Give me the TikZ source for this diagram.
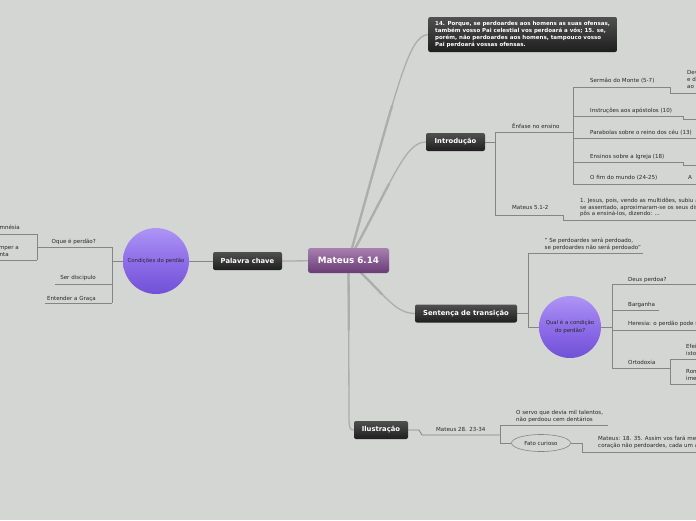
\documentclass[tikz,border=0pt]{standalone}
\usepackage{fontspec}
\setmainfont{DejaVu Sans}
\usetikzlibrary{shapes.geometric,calc}
\pgfdeclarelayer{bgl}
\pgfsetlayers{bgl,main}
\definecolor{bg}{RGB}{212,214,211}
\definecolor{ln}{RGB}{132,134,131}
\definecolor{rootln}{RGB}{172,174,171}
\definecolor{txtc}{RGB}{40,40,40}
\definecolor{dktop}{RGB}{80,80,80}
\definecolor{dkbot}{RGB}{30,30,30}
\definecolor{rttop}{RGB}{168,128,176}
\definecolor{rtbot}{RGB}{106,60,118}
\definecolor{cltop}{RGB}{174,148,246}
\definecolor{clmid}{RGB}{142,110,232}
\definecolor{clbot}{RGB}{112,80,214}
\begin{document}
\begin{tikzpicture}[x=1pt,y=-1pt,
  txt/.style={font=\fontsize{5.55}{6.8}\selectfont, text=txtc, inner sep=0, anchor=base west},
  mtxt/.style={font=\fontsize{5.55}{6.8}\selectfont, text=txtc, inner sep=0, anchor=west, align=left},
  darkbox/.style={rounded corners=2pt, top color=dktop, bottom color=dkbot, draw=none, text=white, font=\bfseries\fontsize{6.8}{8}\selectfont, inner sep=0, minimum height=18pt},
  rootbox/.style={rounded corners=2.5pt, top color=rttop, bottom color=rtbot, text=white, font=\bfseries\fontsize{8.8}{10}\selectfont, inner sep=0, minimum width=81pt, minimum height=25pt},
  bubble/.style={circle, top color=cltop, bottom color=clbot, middle color=clmid, text=txtc, font=\fontsize{5.4}{7.6}\selectfont, align=center, inner sep=0},
  br/.style={draw=ln, line width=0.8pt},
  rc/.style={draw=rootln, line width=1.3pt, line cap=round},
  rcw/.style={draw=rootln, line width=2.3pt, line cap=round},
]
\useasboundingbox (0,0) rectangle (696,520);

% main nodes
\node[rootbox] (root) at (348.5,260.5) {Mateus 6.14};
\node[darkbox, minimum width=69pt] (kw) at (247.5,261) {Palavra chave};
\node[darkbox, minimum width=59pt] (intro) at (455.5,142) {Introdução};
\node[darkbox, minimum width=102pt] (sent) at (466,313.5) {Sentença de transição};
\node[darkbox, minimum width=54pt] (ilus) at (381,430) {Ilustração};
\node[darkbox, anchor=west, minimum height=35pt, inner xsep=7pt, align=left, font=\bfseries\fontsize{5.5}{6.7}\selectfont] (quote) at (428,34.5) {14. Porque, se perdoardes aos homens as suas ofensas,\\também vosso Pai celestial vos perdoará a vós; 15. se,\\porém, não perdoardes aos homens, tampouco vosso\\Pai perdoará vossas ofensas.};

\node[bubble, minimum size=66pt] (cond) at (156,261) {Condições do perdão};
\node[bubble, minimum size=62pt] (qual) at (570,327) {Qual é a condição\\do perdão?};
\node[ellipse, draw=ln, line width=0.6pt, fill=bg, minimum width=59pt, minimum height=17pt, inner sep=0, text=txtc, font=\fontsize{5.5}{6.8}\selectfont] (fato) at (541,443) {Fato curioso};

% left texts
\node[txt, anchor=base east] (oque) at (96,243.5) {Oque é perdão?};
\node[txt, anchor=base east] (ser) at (96,279.5) {Ser discipulo};
\node[txt, anchor=base east] (ent) at (96,300.5) {Entender a Graça};
\node[txt, anchor=base east] (amn) at (20,229.3) {amnésia};
\node[txt, anchor=base east] (romp) at (19,249.7) {mper a};
\node[txt, anchor=base west] (conta) at (-0.5,256) {nta};

% introducao texts
\node[txt] (enf) at (512,128) {Ênfase no ensino};
\node[txt] (serm) at (590,82.7) {Sermão do Monte (5-7)};
\node[txt] (instr) at (590,112) {Instruções aos apóstolos (10)};
\node[txt] (parab) at (590,134.3) {Parabolas sobre o reino dos céu (13)};
\node[txt] (ens) at (590,158) {Ensinos sobre a Igreja (18)};
\node[txt] (fim) at (590,179.7) {O fim do mundo (24-25)};
\node[txt] (afr) at (688,179.7) {A};
\node[mtxt] (dev) at (687,79.5) {Dev\\e d\\ao};
\node[txt] (m512) at (512,209.7) {Mateus 5.1-2};
\node[mtxt] (jesus) at (580,207.5) {1. Jesus, pois, vendo as multidões, subiu a\\se assentado, aproximaram-se os seus dis\\pôs a ensiná-los, dizendo: ...};

% sentenca texts
\node[mtxt] (q1) at (544.5,244.5) {" Se perdoardes será perdoado,\\se perdoardes não será perdoado"};
\node[txt] (deus) at (628,281.3) {Deus perdoa?};
\node[txt] (barg) at (628,306) {Barganha};
\node[txt] (her) at (628,325.3) {Heresia: o perdão pode s};
\node[txt] (orto) at (628,364.7) {Ortodoxia};
\node[mtxt] (efe) at (686,350) {Efei\\isto};
\node[mtxt] (ron) at (686,375.3) {Ron\\ime};

% ilustracao texts
\node[txt] (m28) at (436,431.3) {Mateus 28. 23-34};
\node[mtxt] (servo) at (516,416.7) {O servo que devia mil talentos,\\não perdoou cem dentários};
\node[mtxt] (m18) at (598,442.2) {Mateus: 18. 35. Assim vos fará me\\coração não perdoardes, cada um a};

\begin{pgfonlayer}{bgl}
\fill[bg] (0,0) rectangle (696,520);
% root connectors: thin full curve + wider first part (same curve) for a tapered look
\draw[rc] (root.center) .. controls (398,85) and (408,36) .. (quote.west);
\draw[rcw] (root.center) .. controls (368.3,190.3) and (381.8,140.3) .. (392.1,105.6);
\draw[rc] (root.center) .. controls (393,180) and (405,142) .. (intro.west);
\draw[rcw] (root.center) .. controls (366.3,228.3) and (378.9,202.9) .. (389,184);
\draw[rc] (root.center) -- (kw.east);
\draw[rc] (root.center) .. controls (385,295) and (395,313.5) .. (sent.west);
\draw[rcw] (root.center) .. controls (363.1,274.3) and (373.5,285.5) .. (381.9,294.1);
\draw[rc] (root.center) -- (349,418) .. controls (349,428) and (350,430) .. (ilus.west);
\draw[rcw] (root.center) -- (348.8,330);

% left side
\draw[br] (kw.west) -- (cond.east);
\draw[br] (cond.west) -- (112,261);
\draw[br] (112,247) -- (112,303);
\draw[br] (112,247) -- (37,247);
\draw[br] (112,284) -- (55,284);
\draw[br] (112,303) -- (45,303);
\draw[br] (37,234) -- (37,260);
\draw[br] (37,234) -- (-2,234);
\draw[br] (37,260) -- (-2,260);

% introducao
\draw[br] (intro.east) -- (495,142);
\draw[br] (495,132) -- (495,215);
\draw[br] (495,132) -- (573,132);
\draw[br] (495,215) -- (563,215) -- (563,220) -- (698,220);
\draw[br] (573,87) -- (573,184);
\draw[br] (573,87) -- (670,87) -- (670,93) -- (698,93);
\draw[br] (573,116) -- (683,116) -- (683,119) -- (698,119);
\draw[br] (573,138) -- (698,138);
\draw[br] (573,162) -- (683,162) -- (683,165) -- (698,165);
\draw[br] (573,184) -- (698,184);

% sentenca
\draw[br] (sent.east) -- (528,313.5);
\draw[br] (528,253) -- (528,327);
\draw[br] (528,253) -- (643,253);
\draw[br] (528,327) -- (qual.west);
\draw[br] (qual.east) -- (612,327);
\draw[br] (612,284) -- (612,368);
\draw[br] (612,284) -- (698,284);
\draw[br] (612,310) -- (659,310);
\draw[br] (612,330) -- (698,330);
\draw[br] (612,368) -- (670,368);
\draw[br] (670,359) -- (670,384);
\draw[br] (670,359) -- (698,359);
\draw[br] (670,384) -- (698,384);

% ilustracao
\draw[br] (ilus.east) -- (419,430) -- (422,435) -- (500,435);
\draw[br] (500,425) -- (500,443);
\draw[br] (500,425) -- (608,425);
\draw[br] (500,443) -- (fato.west);
\draw[br] (fato.east) -- (582,443) -- (582,452) -- (698,452);
\end{pgfonlayer}
\end{tikzpicture}
\end{document}
